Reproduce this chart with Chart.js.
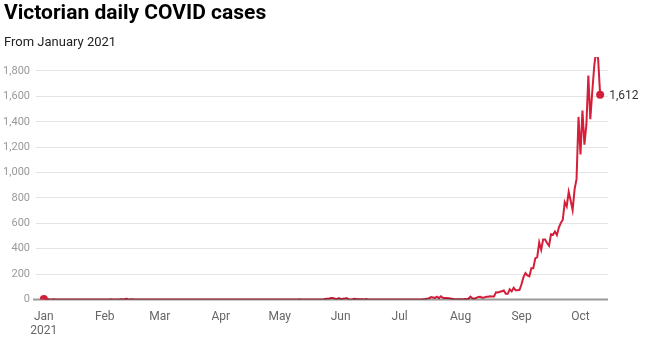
<!DOCTYPE html>
<html>
<head>
<meta charset="utf-8">
<script src="https://cdn.jsdelivr.net/npm/chart.js@4/dist/chart.umd.min.js"></script>
<style>
    html, body { margin: 0; padding: 0; background: #fff; }
    #wrap { position: relative; width: 645px; height: 337px; font-family: Roboto, sans-serif; }
    #title { position: absolute; left: 4px; top: 0px; font-size: 21px; font-weight: bold; color: #000; line-height: 24px; }
    #subtitle { position: absolute; left: 4px; top: 34px; font-size: 13px; color: #222; line-height: 16px; }
    canvas { position: absolute; left: 0; top: 0; }
</style>
</head>
<body>
<div id="wrap">
    <canvas id="casesChart" width="645" height="337"></canvas>
    <div id="title">Victorian daily COVID cases</div>
    <div id="subtitle">From January 2021</div>
</div>
<script>
// Daily cases by month (Jan 1 2021 .. Oct 11 2021)
const jan = [3, 1, 3, 1, 0, 1, 0, 0, 0, 0, 0, 0, 0, 0, 0, 0, 0, 0, 0, 0, 0, 0, 0, 0, 0, 0, 0, 0, 0, 0, 0];
const feb = [0, 0, 0, 1, 0, 0, 0, 0, 1, 1, 3, 5, 2, 1, 1, 0, 0, 0, 0, 0, 0, 0, 0, 0, 0, 0, 0, 0];
const mar = [0, 0, 0, 0, 0, 0, 0, 0, 0, 0, 0, 0, 0, 0, 0, 0, 0, 0, 0, 0, 0, 0, 0, 0, 0, 0, 0, 0, 0, 0, 0];
const apr = [0, 0, 0, 0, 0, 0, 0, 0, 0, 0, 0, 0, 0, 0, 0, 0, 0, 0, 0, 0, 0, 0, 0, 0, 0, 0, 0, 0, 0, 0];
const may = [0, 0, 0, 0, 0, 0, 0, 0, 0, 0, 1, 0, 0, 0, 0, 0, 0, 0, 0, 0, 0, 0, 0, 4, 5, 6, 11, 12, 7, 2, 11];
const jun = [4, 5, 7, 11, 3, 1, 2, 5, 3, 2, 2, 2, 0, 4, 1, 0, 0, 0, 0, 0, 0, 0, 0, 0, 0, 0, 0, 0, 0, 0];
const jul = [0, 0, 0, 0, 0, 0, 0, 0, 0, 0, 0, 0, 3, 4, 7, 10, 19, 16, 13, 22, 11, 26, 14, 12, 11, 10, 8, 3, 2, 1, 1];
const aug = [1, 1, 3, 2, 6, 22, 10, 6, 13, 20, 21, 14, 15, 21, 22, 25, 24, 24, 57, 55, 61, 65, 71, 45, 45, 80, 64, 92, 73, 73, 76];
const sep = [120, 176, 208, 190, 183, 246, 246, 324, 334, 450, 392, 473, 473, 445, 423, 514, 510, 535, 507, 567, 603, 628, 766, 733, 847, 779, 705, 867, 950, 1438];
const oct = [1143, 1488, 1220, 1377, 1763, 1420, 1638, 1838, 1965, 1890, 1612];

const cases = [].concat(jan, feb, mar, apr, may, jun, jul, aug, sep, oct);

// x positions = day of year (0 = Jan 1)
const monthStarts = [0, 31, 59, 90, 120, 151, 181, 212, 243, 273];
const monthLabels = [['Jan', '2021'], 'Feb', 'Mar', 'Apr', 'May', 'Jun', 'Jul', 'Aug', 'Sep', 'Oct'];
const yTicks = [0, 200, 400, 600, 800, 1000, 1200, 1400, 1600, 1800];

const lineColor = '#d51f3a';

const points = cases.map((v, i) => ({ x: i, y: v }));
const lastIdx = cases.length - 1;
const endPoints = [{ x: 0, y: cases[0] }, { x: lastIdx, y: cases[lastIdx] }];

// Нулевая линия поверх линии данных (полупрозрачная), но под точками
const zeroLine = {
    id: 'zeroLine',
    afterDatasetDraw(chart, args) {
        if (args.index !== 0) return;
        const ctx = chart.ctx;
        const y = chart.scales.y.getPixelForValue(0);
        ctx.save();
        ctx.strokeStyle = 'rgba(0, 0, 0, 0.4)';
        ctx.lineWidth = 2;
        ctx.beginPath();
        ctx.moveTo(33, y);
        ctx.lineTo(chart.chartArea.right, y);
        ctx.stroke();
        ctx.restore();
    }
};

// Подпись последнего значения справа от точки
const endLabel = {
    id: 'endLabel',
    afterDatasetsDraw(chart) {
        const meta = chart.getDatasetMeta(1);
        const last = meta.data[meta.data.length - 1];
        const ctx = chart.ctx;
        ctx.save();
        ctx.font = '12px Roboto, sans-serif';
        ctx.fillStyle = '#333';
        ctx.textAlign = 'left';
        ctx.textBaseline = 'middle';
        ctx.fillText(cases[lastIdx].toLocaleString('en-US'), last.x + 9, last.y + 1);
        ctx.restore();
    }
};

const ctx = document.getElementById('casesChart').getContext('2d');

new Chart(ctx, {
    type: 'line',
    data: {
        datasets: [{
            data: points,
            borderColor: lineColor,
            borderWidth: 2,
            tension: 0,
            pointRadius: 0,
            order: 0
        }, {
            data: endPoints,
            showLine: false,
            backgroundColor: lineColor,
            pointRadius: 4,
            pointBorderWidth: 0,
            order: -1
        }]
    },
    options: {
        responsive: false,
        animation: false,
        layout: { padding: { top: 57, right: 37, left: 0, bottom: 0 } },
        plugins: {
            legend: { display: false },
            tooltip: { enabled: false }
        },
        scales: {
            x: {
                type: 'linear',
                min: -4,
                max: 287,
                grid: { display: false },
                border: { display: false },
                afterBuildTicks: (scale) => { scale.ticks = monthStarts.map(v => ({ value: v })); },
                afterFit: (scale) => { scale.height = 37.5; },
                ticks: {
                    autoSkip: false,
                    maxRotation: 0,
                    padding: 2,
                    color: '#666',
                    font: { family: 'Roboto', size: 12 },
                    callback: (value) => monthLabels[monthStarts.indexOf(value)]
                }
            },
            y: {
                min: 0,
                max: 1910,
                afterBuildTicks: (scale) => { scale.ticks = yTicks.map(v => ({ value: v })); },
                afterFit: (scale) => { scale.width = 36; },
                border: { display: false },
                grid: {
                    drawTicks: false,
                    color: (c) => c.tick && c.tick.value === 0 ? 'rgba(0,0,0,0)' : '#e4e4e4',
                    lineWidth: 1
                },
                ticks: {
                    padding: 6,
                    color: '#999',
                    font: { family: 'Roboto', size: 11 },
                    callback: (value) => value.toLocaleString('en-US')
                }
            }
        }
    },
    plugins: [zeroLine, endLabel]
});
</script>
</body>
</html>
